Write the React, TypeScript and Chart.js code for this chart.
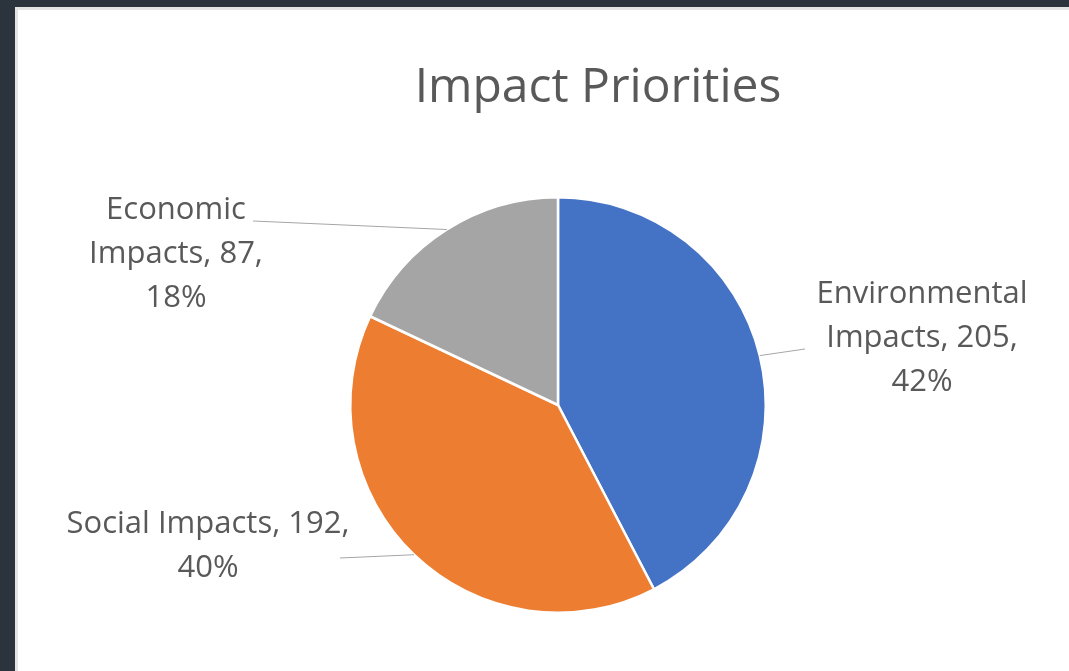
import React, { useEffect, useRef } from "react";
import { Chart, registerables } from "chart.js";

Chart.register(...registerables);

const title = "Impact Priorities";
const categories = ["Environmental Impacts", "Social Impacts", "Economic Impacts"];
const values = [205, 192, 87];
const percents = ["42%", "40%", "18%"];
const colors = ["#4472C4", "#ED7D31", "#A5A5A5"];
// label text lines per slice
const labelLines = [
  ["Environmental", "Impacts, 205,", "42%"],
  ["Social Impacts, 192,", "40%"],
  ["Economic", "Impacts, 87,", "18%"],
];

// layout of label blocks (center x, first baseline y, leader end x, leader end y)
const labelLayout = [
  { cx: 922, y0: 303, lx: 805, ly: 349 },
  { cx: 208, y0: 533, lx: 340, ly: 558 },
  { cx: 176, y0: 219, lx: 253, ly: 221 },
];

const FONT = "'Open Sans', 'Noto Sans', sans-serif";
const TEXT_COLOR = "#595959";

const labelPlugin = {
  id: "xlLabels",
  afterDraw(chart: any) {
    const ctx = chart.ctx;
    const meta = chart.getDatasetMeta(0);
    ctx.save();
    // title
    ctx.fillStyle = TEXT_COLOR;
    ctx.font = `48px ${FONT}`;
    ctx.textAlign = "center";
    ctx.textBaseline = "alphabetic";
    ctx.fillText(title, 598, 102);

    meta.data.forEach((arc: any, i: number) => {
      const p = arc.getProps(["x", "y", "startAngle", "endAngle", "outerRadius"], true);
      const mid = (p.startAngle + p.endAngle) / 2;
      const sx = p.x + Math.cos(mid) * p.outerRadius;
      const sy = p.y + Math.sin(mid) * p.outerRadius;
      const L = labelLayout[i];
      ctx.strokeStyle = "#a6a6a6";
      ctx.lineWidth = 1;
      ctx.beginPath();
      ctx.moveTo(sx, sy);
      ctx.lineTo(L.lx, L.ly);
      ctx.stroke();
      ctx.fillStyle = TEXT_COLOR;
      ctx.font = `31px ${FONT}`;
      ctx.textAlign = "center";
      labelLines[i].forEach((t, k) => {
        ctx.fillText(t, L.cx, L.y0 + k * 44);
      });
    });
    ctx.restore();
  },
};

export default function App() {
  const ref = useRef<HTMLCanvasElement>(null);
  useEffect(() => {
    if (!ref.current) return;
    const chart = new Chart(ref.current, {
      type: "pie",
      data: {
        labels: categories,
        datasets: [
          {
            data: values,
            backgroundColor: colors,
            borderColor: "#ffffff",
            borderWidth: 2.5,
          },
        ],
      },
      options: {
        animation: false,
        responsive: true,
        maintainAspectRatio: false,
        layout: { padding: { left: 349, right: 302, top: 196, bottom: 57 } },
        plugins: {
          legend: { display: false },
          tooltip: { enabled: false },
          title: { display: false },
        },
      },
      plugins: [labelPlugin],
    });
    return () => chart.destroy();
  }, []);

  return (
    <div
      style={{
        position: "fixed",
        left: 0,
        top: 0,
        width: 1069,
        height: 671,
        background: "#2b333d",
        overflow: "hidden",
      }}
    >
      <div
        style={{
          position: "absolute",
          left: 15,
          top: 7,
          right: 0,
          bottom: 0,
          background: "#ffffff",
          borderLeft: "3px solid #e4e4e4",
          borderTop: "3px solid #e4e4e4",
        }}
      />
      <div style={{ position: "absolute", left: 0, top: 0, width: 1069, height: 671 }}>
        <canvas ref={ref} />
      </div>
    </div>
  );
}
